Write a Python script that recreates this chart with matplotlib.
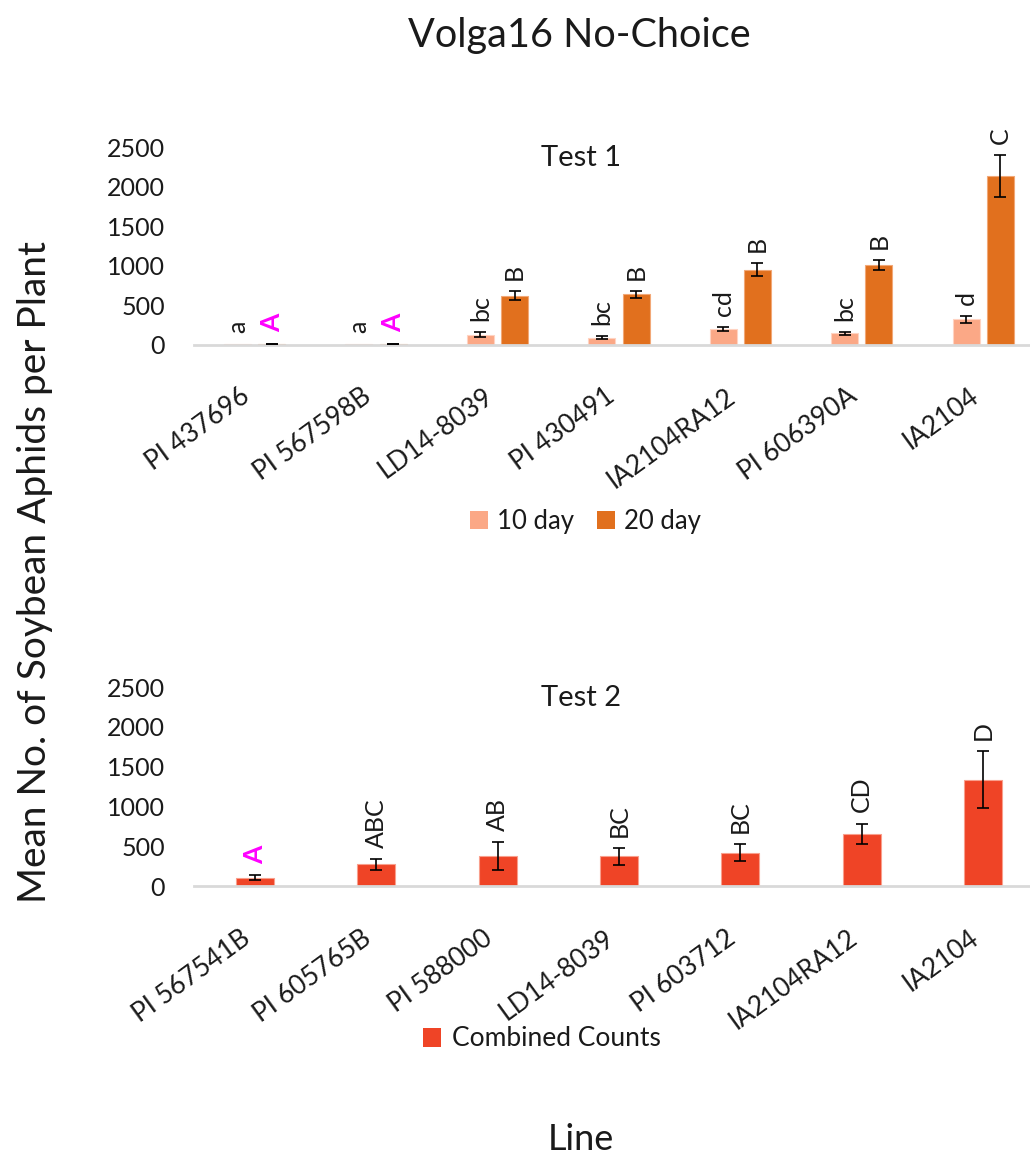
import matplotlib
matplotlib.use("Agg")
import matplotlib.pyplot as plt
from matplotlib.patches import Patch
import numpy as np

plt.rcParams['font.family'] = ['Lato', 'DejaVu Sans']

# Test 1 data (10 day and 20 day counts)
lines_t1 = ["PI 437696", "PI 567598B", "LD14-8039", "PI 430491",
            "IA2104RA12", "PI 606390A", "IA2104"]
day10 = [0.5, 0.5, 125, 85, 200, 140, 320]
day10_err = [0, 0, 28, 20, 25, 18, 42]
day20 = [8, 8, 616, 634, 946, 1004, 2133]
day20_err = [4, 4, 58, 42, 83, 62, 267]
letters10 = ["a", "a", "bc", "bc", "cd", "bc", "d"]
letters20 = ["A", "A", "B", "B", "B", "B", "C"]

# Test 2 data (combined counts)
lines_t2 = ["PI 567541B", "PI 605765B", "PI 588000", "LD14-8039",
            "PI 603712", "IA2104RA12", "IA2104"]
combined = [109, 277, 377, 377, 424, 663, 1338]
combined_err = [31, 65, 176, 105, 111, 126, 359]
letters_comb = ["A", "ABC", "AB", "BC", "BC", "CD", "D"]

yticks = [0, 500, 1000, 1500, 2000, 2500]

C10 = "#FBA886"
C20 = "#E1701E"
CCOMB = "#EF4426"
MAGENTA = "#FF00FF"
TXT = "#1a1a1a"

fig = plt.figure(figsize=(10.3, 11.58), dpi=100)

ax1 = fig.add_axes([0.1883, 0.7025, 0.8252, 0.1704])
ax2 = fig.add_axes([0.1883, 0.2345, 0.8252, 0.1722])


def style_axis(ax, labels):
    ax.set_xlim(-0.5, 6.5)
    ax.set_ylim(0, 2500)
    ax.set_yticks(yticks)
    ax.set_yticklabels([str(v) for v in yticks], fontsize=18, color=TXT)
    for s in ["top", "right", "left"]:
        ax.spines[s].set_visible(False)
    ax.spines["bottom"].set_color("#D9D9D9")
    ax.spines["bottom"].set_linewidth(2)
    ax.tick_params(axis="y", length=0, pad=21)
    ax.tick_params(axis="x", length=0, pad=28)
    ax.set_xticks(np.arange(len(labels)))
    ax.set_xticklabels(labels, rotation=36, ha="right", va="top",
                       fontsize=19, color=TXT)
    ax.patch.set_alpha(0)


def letter(ax, x, top, text, magenta=False):
    ax.annotate(text, xy=(x, top), xytext=(0, 8), textcoords="offset points",
                rotation=90, ha="center", va="bottom",
                fontsize=18 if not magenta else 19,
                fontweight="bold" if magenta else "normal",
                color=MAGENTA if magenta else TXT, annotation_clip=False)


def err(ax, xs, vals, errs):
    xs = np.asarray(xs, dtype=float)
    vals = np.asarray(vals, dtype=float)
    errs = np.asarray(errs, dtype=float)
    keep = errs > 0
    ax.errorbar(xs[keep], vals[keep], yerr=errs[keep], fmt="none",
                ecolor="black", elinewidth=1.2, capsize=4.5, capthick=1.2,
                zorder=3)


# ---- Test 1 ----
x1 = np.arange(len(lines_t1))
off, w = 0.141, 0.222
ax1.bar(x1 - off, day10, w, color=C10, edgecolor="#FFD3C2", linewidth=0.8,
        label="10 day", zorder=2)
ax1.bar(x1 + off, day20, w, color=C20, edgecolor="#F2A877", linewidth=0.8,
        label="20 day", zorder=2)
err(ax1, x1 - off, day10, day10_err)
err(ax1, x1 + off, day20, day20_err)
for i in range(len(lines_t1)):
    letter(ax1, x1[i] - off, day10[i] + day10_err[i], letters10[i])
    letter(ax1, x1[i] + off, day20[i] + day20_err[i], letters20[i],
           magenta=(i < 2))
style_axis(ax1, lines_t1)
fig.text(0.5640, 1 - 158 / 1158, "Test 1", ha="center", va="center",
         fontsize=21, color=TXT)
fig.legend(handles=[Patch(facecolor=C10, label="10 day"),
                    Patch(facecolor=C20, label="20 day")],
           loc="center", bbox_to_anchor=(0.568, 1 - 521 / 1158), ncol=2,
           frameon=False, fontsize=18.5, handlelength=0.7, handleheight=0.7,
           handletextpad=0.35, columnspacing=0.9, labelcolor=TXT)

# ---- Test 2 ----
x2 = np.arange(len(lines_t2))
ax2.bar(x2, combined, 0.313, color=CCOMB, edgecolor="#F99F8C", linewidth=0.8,
        zorder=2)
err(ax2, x2, combined, combined_err)
for i in range(len(lines_t2)):
    letter(ax2, x2[i], combined[i] + combined_err[i], letters_comb[i],
           magenta=(i == 0))
style_axis(ax2, lines_t2)
fig.text(0.5640, 1 - 698 / 1158, "Test 2", ha="center", va="center",
         fontsize=21, color=TXT)
fig.legend(handles=[Patch(facecolor=CCOMB, label="Combined Counts")],
           loc="center", bbox_to_anchor=(0.526, 1 - 1039 / 1158),
           frameon=False, fontsize=19, handlelength=0.7, handleheight=0.7,
           handletextpad=0.4, labelcolor=TXT)

# Figure-level titles
fig.text(0.562, 1 - 35 / 1158, "Volga16 No-Choice", ha="center",
         va="center", fontsize=28.5, color=TXT)
fig.text(0.034, 1 - 572 / 1158, "Mean No. of Soybean Aphids per Plant",
         ha="center", va="center", rotation=90, fontsize=28, color=TXT)
fig.text(0.564, 1 - 1140 / 1158, "Line", ha="center", va="center",
         fontsize=26, color=TXT)

fig.savefig("out.png", dpi=100, facecolor="white")
